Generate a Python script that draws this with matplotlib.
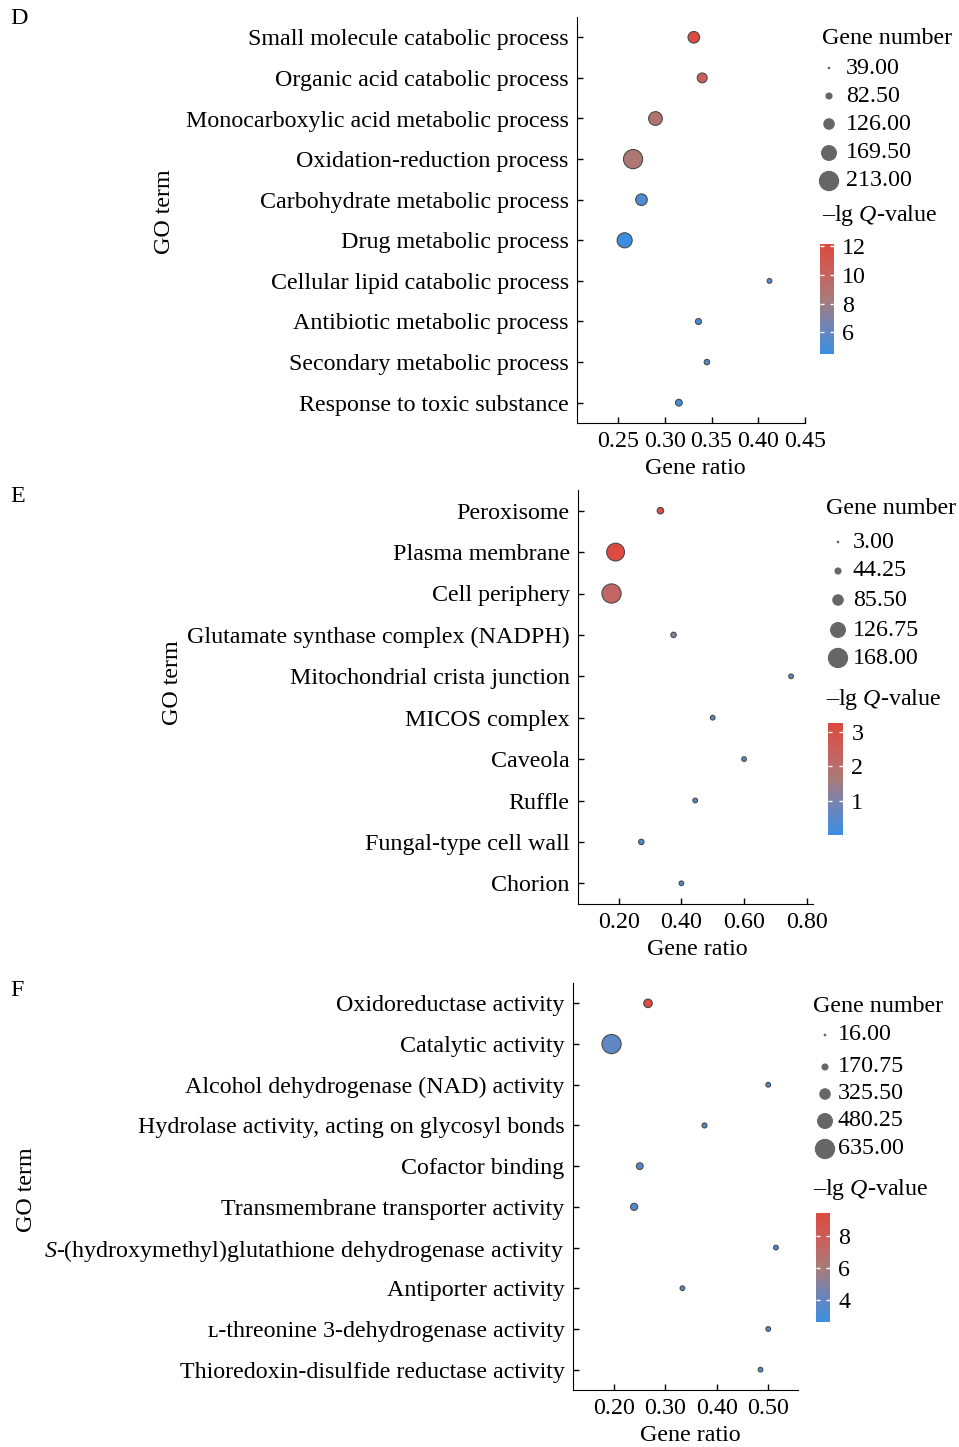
import numpy as np
import matplotlib
matplotlib.use("Agg")
import matplotlib.pyplot as plt
from matplotlib.colors import LinearSegmentedColormap, Normalize
from matplotlib.colorbar import ColorbarBase

plt.rcParams["font.family"] = ["Liberation Serif", "DejaVu Serif"]
plt.rcParams["mathtext.fontset"] = "custom"
plt.rcParams["mathtext.rm"] = "Liberation Serif"
plt.rcParams["mathtext.it"] = "Liberation Serif:italic"

W, H = 959, 1447
FS = 17.3

# ---- panel D: biological process ----
d_terms = ["Small molecule catabolic process", "Organic acid catabolic process",
           "Monocarboxylic acid metabolic process", "Oxidation-reduction process",
           "Carbohydrate metabolic process", "Drug metabolic process",
           "Cellular lipid catabolic process", "Antibiotic metabolic process",
           "Secondary metabolic process", "Response to toxic substance"]
d_ratio = [0.331, 0.340, 0.290, 0.266, 0.275, 0.257, 0.412, 0.336, 0.345, 0.315]
d_count = [138, 121, 159, 213, 138, 172, 70, 83, 77, 90]
d_q = [12.1, 10.4, 8.9, 8.6, 5.2, 4.6, 5.6, 5.0, 5.3, 4.8]
d_size_ticks = [39.00, 82.50, 126.00, 169.50, 213.00]
d_q_ticks = [6, 8, 10, 12]

# ---- panel E: cellular component ----
e_terms = ["Peroxisome", "Plasma membrane", "Cell periphery",
           "Glutamate synthase complex (NADPH)", "Mitochondrial crista junction",
           "MICOS complex", "Caveola", "Ruffle", "Fungal-type cell wall", "Chorion"]
e_ratio = [0.333, 0.190, 0.177, 0.375, 0.750, 0.500, 0.600, 0.444, 0.272, 0.400]
e_count = [49, 155, 168, 39, 32, 32, 32, 32, 39, 32]
e_q = [3.05, 3.23, 2.3, 1.2, 0.6, 0.5, 0.55, 0.5, 0.4, 0.45]
e_size_ticks = [3.00, 44.25, 85.50, 126.75, 168.00]
e_q_ticks = [1, 2, 3]

# ---- panel F: molecular function ----
f_terms = ["Oxidoreductase activity", "Catalytic activity",
           "Alcohol dehydrogenase (NAD) activity",
           "Hydrolase activity, acting on glycosyl bonds", "Cofactor binding",
           "Transmembrane transporter activity",
           r"$\mathit{S}$-(hydroxymethyl)glutathione dehydrogenase activity",
           "Antiporter activity", "ʟ-threonine 3-dehydrogenase activity",
           "Thioredoxin-disulfide reductase activity"]
f_ratio = [0.266, 0.195, 0.500, 0.376, 0.250, 0.239, 0.515, 0.333, 0.500, 0.485]
f_count = [260, 635, 125, 136, 198, 209, 125, 125, 125, 125]
f_q = [9.4, 3.8, 3.2, 3.3, 3.5, 3.4, 3.0, 3.1, 3.0, 3.0]
f_size_ticks = [16.00, 170.75, 325.50, 480.25, 635.00]
f_q_ticks = [4, 6, 8]

cmap = LinearSegmentedColormap.from_list(
    "go", ["#3a8fe2", "#6f84b8", "#a87b78", "#c9605d", "#dc4a40"])


def px_axes(fig, x0, y0, x1, y1, **kw):
    return fig.add_axes([x0 / W, (H - y1) / H, (x1 - x0) / W, (y1 - y0) / H], **kw)


def size_of(v, lo, hi):
    # marker diameter grows linearly with gene number (px -> pt^2)
    d_px = 1.6 + 17.6 * (np.asarray(v, float) - lo) / (hi - lo)
    return (d_px * 0.72) ** 2


def panel(fig, box, terms, ratio, count, q, xlim, xticks, qlim, size_ticks, q_ticks,
          letter, letter_y, go_xy, xlab_x, leg):
    ax = px_axes(fig, *box)
    y = np.arange(len(terms))
    lo, hi = size_ticks[0], size_ticks[-1]
    norm = Normalize(*qlim)
    ax.scatter(ratio, y, s=size_of(count, lo, hi), c=q, cmap=cmap, norm=norm,
               edgecolors="#4a4a4a", linewidths=0.8, zorder=3)
    ax.set_ylim(len(terms) - 0.5, -0.5)
    ax.set_xlim(*xlim)
    ax.set_yticks(y)
    ax.set_yticklabels(terms)
    ax.set_xticks(xticks)
    ax.set_xticklabels([f"{t:.2f}" for t in xticks])
    for s in ("top", "right"):
        ax.spines[s].set_visible(False)
    ax.tick_params(direction="in", length=4, width=1, labelsize=FS, pad=6)
    ax.set_xlabel("Gene ratio", fontsize=FS)
    ax.xaxis.set_label_coords((xlab_x - box[0]) / (box[2] - box[0]), -0.085)
    fig.text(go_xy[0] / W, 1 - go_xy[1] / H, "GO term", rotation=90, fontsize=FS,
             ha="center", va="center")
    fig.text(10 / W, 1 - letter_y / H, letter, fontsize=FS, ha="left", va="center")

    # size legend
    tx, ty, cx, lx, rows, qty, cb = leg
    fig.text(tx / W, 1 - ty / H, "Gene number", fontsize=FS, ha="left", va="center")
    lax = px_axes(fig, 800, rows[0] - 20, 959, rows[-1] + 20)
    lax.set_xlim(800, 959)
    lax.set_ylim(rows[-1] + 20, rows[0] - 20)
    lax.axis("off")
    lax.scatter([cx] * len(rows), rows, s=size_of(size_ticks, lo, hi), color="#666666",
                edgecolors="#666666", linewidths=0.8, clip_on=False)
    for r, v in zip(rows, size_ticks):
        lax.text(lx, r, f"{v:.2f}", fontsize=FS, ha="left", va="center")
    fig.text(tx / W, 1 - qty / H, r"–lg $\mathit{Q}$-value", fontsize=FS,
             ha="left", va="center")
    cax = px_axes(fig, *cb)
    cbar = ColorbarBase(cax, cmap=cmap, norm=norm, ticks=q_ticks)
    cbar.outline.set_visible(False)
    cax.tick_params(which="both", direction="in", colors="white", length=3, width=1,
                    labelsize=FS, labelcolor="black", pad=6, left=True, right=True)
    return ax


fig = plt.figure(figsize=(W / 100, H / 100), dpi=100)

panel(fig, (577, 17, 805, 423), d_terms, d_ratio, d_count, d_q,
      (0.206, 0.448), [0.25, 0.30, 0.35, 0.40, 0.45], (4.5, 12.15),
      d_size_ticks, d_q_ticks, "D", 18, (165, 212), 695,
      (822, 38, 829, 846, [68, 96, 124, 153, 181], 216, (820, 244, 834, 354)))

panel(fig, (578, 490, 813, 904), e_terms, e_ratio, e_count, e_q,
      (0.07, 0.82), [0.20, 0.40, 0.60, 0.80], (0.03, 3.25),
      e_size_ticks, e_q_ticks, "E", 497, (173, 683), 697,
      (826, 508, 838, 853, [542, 571, 600, 630, 658], 699, (828, 723, 843, 835)))

panel(fig, (573, 983, 798, 1390), f_terms, f_ratio, f_count, f_q,
      (0.12, 0.558), [0.20, 0.30, 0.40, 0.50], (2.6, 9.45),
      f_size_ticks, f_q_ticks, "F", 990, (27, 1190), 690,
      (813, 1007, 825, 838, [1035, 1067, 1094, 1121, 1149], 1189, (816, 1213, 830, 1322)))

fig.savefig("out.png", dpi=100)
